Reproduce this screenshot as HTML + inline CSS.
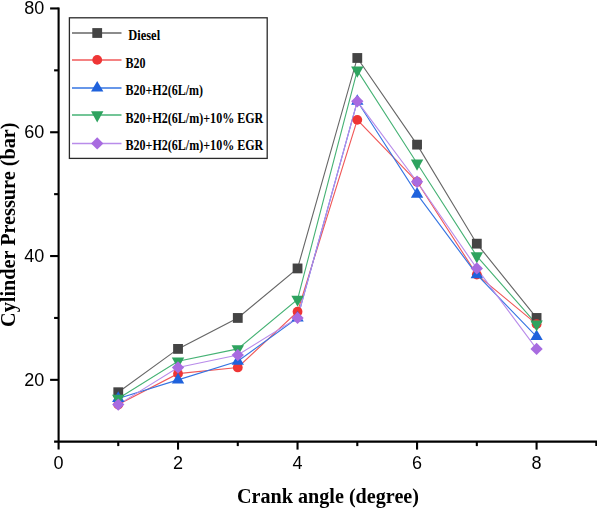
<!DOCTYPE html>
<html><head><meta charset="utf-8"><style>
html,body{margin:0;padding:0;background:#fff;width:597px;height:508px;overflow:hidden}
svg{display:block;filter:blur(0.35px)}

</style></head><body>
<svg width="597" height="508" viewBox="0 0 597 508">
<g stroke="#000" stroke-width="2.1" fill="none">
<line x1="58.6" y1="7.449999999999999" x2="58.6" y2="449.6"/>
<line x1="54.1" y1="441.6" x2="597" y2="441.6"/>
<line x1="50.1" y1="8.45" x2="58.6" y2="8.45"/>
<line x1="50.1" y1="132.25" x2="58.6" y2="132.25"/>
<line x1="50.1" y1="256.05" x2="58.6" y2="256.05"/>
<line x1="50.1" y1="379.85" x2="58.6" y2="379.85"/>
<line x1="54.1" y1="70.35" x2="58.6" y2="70.35"/>
<line x1="54.1" y1="194.15" x2="58.6" y2="194.15"/>
<line x1="54.1" y1="317.95" x2="58.6" y2="317.95"/>
<line x1="178.02" y1="441.6" x2="178.02" y2="449.6"/>
<line x1="297.54" y1="441.6" x2="297.54" y2="449.6"/>
<line x1="417.06" y1="441.6" x2="417.06" y2="449.6"/>
<line x1="536.58" y1="441.6" x2="536.58" y2="449.6"/>
<line x1="118.26" y1="441.6" x2="118.26" y2="446.1"/>
<line x1="237.78" y1="441.6" x2="237.78" y2="446.1"/>
<line x1="357.30" y1="441.6" x2="357.30" y2="446.1"/>
<line x1="476.82" y1="441.6" x2="476.82" y2="446.1"/>
<line x1="596.34" y1="441.6" x2="596.34" y2="446.1"/>
</g>
<g font-family="Liberation Sans, sans-serif" font-size="18" fill="#000">
<text x="44.3" y="14.15" text-anchor="end">80</text>
<text x="44.3" y="137.95" text-anchor="end">60</text>
<text x="44.3" y="261.75" text-anchor="end">40</text>
<text x="44.3" y="385.55" text-anchor="end">20</text>
<text x="58.50" y="468.9" text-anchor="middle">0</text>
<text x="178.02" y="468.9" text-anchor="middle">2</text>
<text x="297.54" y="468.9" text-anchor="middle">4</text>
<text x="417.06" y="468.9" text-anchor="middle">6</text>
<text x="536.58" y="468.9" text-anchor="middle">8</text>
</g>
<text x="328" y="502.6" text-anchor="middle" font-family="Liberation Serif, serif" font-weight="bold" font-size="20" textLength="182" lengthAdjust="spacingAndGlyphs">Crank angle (degree)</text>
<text transform="translate(15.2,224.7) rotate(-90)" x="0" y="0" text-anchor="middle" font-family="Liberation Serif, serif" font-weight="bold" font-size="20" textLength="204.5" lengthAdjust="spacingAndGlyphs">Cylinder Pressure (bar)</text>
<polyline points="118.26,392.23 178.02,348.90 237.78,317.95 297.54,268.43 357.30,57.97 417.06,144.63 476.82,243.67 536.58,317.95" fill="none" stroke="#666666" stroke-width="1.1"/>
<polyline points="118.26,404.61 178.02,373.66 237.78,367.47 297.54,311.76 357.30,119.87 417.06,181.77 476.82,274.62 536.58,324.14" fill="none" stroke="#f05858" stroke-width="1.1"/>
<polyline points="118.26,398.42 178.02,379.85 237.78,361.28 297.54,317.95 357.30,101.30 417.06,194.15 476.82,274.62 536.58,336.52" fill="none" stroke="#3574e2" stroke-width="1.1"/>
<polyline points="118.26,398.42 178.02,361.28 237.78,348.90 297.54,299.38 357.30,70.35 417.06,163.20 476.82,256.05 536.58,324.14" fill="none" stroke="#45b274" stroke-width="1.1"/>
<polyline points="118.26,404.61 178.02,367.47 237.78,355.09 297.54,317.95 357.30,101.30 417.06,181.77 476.82,268.43 536.58,348.90" fill="none" stroke="#b98cea" stroke-width="1.1"/>
<rect x="113.36" y="387.33" width="9.8" height="9.8" fill="#444444"/>
<rect x="173.12" y="344.00" width="9.8" height="9.8" fill="#444444"/>
<rect x="232.88" y="313.05" width="9.8" height="9.8" fill="#444444"/>
<rect x="292.64" y="263.53" width="9.8" height="9.8" fill="#444444"/>
<rect x="352.40" y="53.07" width="9.8" height="9.8" fill="#444444"/>
<rect x="412.16" y="139.73" width="9.8" height="9.8" fill="#444444"/>
<rect x="471.92" y="238.77" width="9.8" height="9.8" fill="#444444"/>
<rect x="531.68" y="313.05" width="9.8" height="9.8" fill="#444444"/>
<circle cx="118.26" cy="404.61" r="4.9" fill="#ef3535"/>
<circle cx="178.02" cy="373.66" r="4.9" fill="#ef3535"/>
<circle cx="237.78" cy="367.47" r="4.9" fill="#ef3535"/>
<circle cx="297.54" cy="311.76" r="4.9" fill="#ef3535"/>
<circle cx="357.30" cy="119.87" r="4.9" fill="#ef3535"/>
<circle cx="417.06" cy="181.77" r="4.9" fill="#ef3535"/>
<circle cx="476.82" cy="274.62" r="4.9" fill="#ef3535"/>
<circle cx="536.58" cy="324.14" r="4.9" fill="#ef3535"/>
<polygon points="118.26,391.35 124.46,401.95 112.06,401.95" fill="#1f62dc"/>
<polygon points="178.02,372.78 184.22,383.38 171.82,383.38" fill="#1f62dc"/>
<polygon points="237.78,354.21 243.98,364.81 231.58,364.81" fill="#1f62dc"/>
<polygon points="297.54,310.88 303.74,321.48 291.34,321.48" fill="#1f62dc"/>
<polygon points="357.30,94.23 363.50,104.83 351.10,104.83" fill="#1f62dc"/>
<polygon points="417.06,187.08 423.26,197.68 410.86,197.68" fill="#1f62dc"/>
<polygon points="476.82,267.55 483.02,278.15 470.62,278.15" fill="#1f62dc"/>
<polygon points="536.58,329.45 542.78,340.05 530.38,340.05" fill="#1f62dc"/>
<polygon points="112.06,394.69 124.46,394.69 118.26,405.89" fill="#2ea35f"/>
<polygon points="171.82,357.55 184.22,357.55 178.02,368.75" fill="#2ea35f"/>
<polygon points="231.58,345.17 243.98,345.17 237.78,356.37" fill="#2ea35f"/>
<polygon points="291.34,295.65 303.74,295.65 297.54,306.85" fill="#2ea35f"/>
<polygon points="351.10,66.62 363.50,66.62 357.30,77.82" fill="#2ea35f"/>
<polygon points="410.86,159.47 423.26,159.47 417.06,170.67" fill="#2ea35f"/>
<polygon points="470.62,252.32 483.02,252.32 476.82,263.52" fill="#2ea35f"/>
<polygon points="530.38,320.41 542.78,320.41 536.58,331.61" fill="#2ea35f"/>
<polygon points="118.26,398.46 124.41,404.61 118.26,410.76 112.11,404.61" fill="#a86be0"/>
<polygon points="178.02,361.32 184.17,367.47 178.02,373.62 171.87,367.47" fill="#a86be0"/>
<polygon points="237.78,348.94 243.93,355.09 237.78,361.24 231.63,355.09" fill="#a86be0"/>
<polygon points="297.54,311.80 303.69,317.95 297.54,324.10 291.39,317.95" fill="#a86be0"/>
<polygon points="357.30,95.15 363.45,101.30 357.30,107.45 351.15,101.30" fill="#a86be0"/>
<polygon points="417.06,175.62 423.21,181.77 417.06,187.92 410.91,181.77" fill="#a86be0"/>
<polygon points="476.82,262.28 482.97,268.43 476.82,274.58 470.67,268.43" fill="#a86be0"/>
<polygon points="536.58,342.75 542.73,348.90 536.58,355.05 530.43,348.90" fill="#a86be0"/>
<rect x="69.4" y="17.8" width="197.8" height="140.6" fill="#fff" stroke="#2a2a2a" stroke-width="1.3"/>
<line x1="72" y1="33.0" x2="121.5" y2="33.0" stroke="#666666" stroke-width="1.5"/>
<rect x="92.30" y="28.10" width="9.8" height="9.8" fill="#444444"/>
<text x="128.3" y="39.60" font-family="Liberation Serif, serif" font-weight="bold" font-size="13.8" textLength="31.8" lengthAdjust="spacingAndGlyphs">Diesel</text>
<line x1="72" y1="59.9" x2="121.5" y2="59.9" stroke="#f05858" stroke-width="1.5"/>
<circle cx="97.20" cy="59.90" r="4.9" fill="#ef3535"/>
<text x="125.5" y="67.80" font-family="Liberation Serif, serif" font-weight="bold" font-size="14.2" textLength="20.0" lengthAdjust="spacingAndGlyphs">B20</text>
<line x1="72" y1="88.0" x2="121.5" y2="88.0" stroke="#3574e2" stroke-width="1.5"/>
<polygon points="97.20,80.93 103.40,91.53 91.00,91.53" fill="#1f62dc"/>
<text x="125.5" y="94.50" font-family="Liberation Serif, serif" font-weight="bold" font-size="14.2" textLength="77.5" lengthAdjust="spacingAndGlyphs">B20+H2(6L/m)</text>
<line x1="72" y1="115.1" x2="121.5" y2="115.1" stroke="#45b274" stroke-width="1.5"/>
<polygon points="91.00,111.37 103.40,111.37 97.20,122.57" fill="#2ea35f"/>
<text x="125.5" y="123.00" font-family="Liberation Serif, serif" font-weight="bold" font-size="14.2" textLength="137.8" lengthAdjust="spacingAndGlyphs">B20+H2(6L/m)+10&#37; EGR</text>
<line x1="72" y1="143.4" x2="121.5" y2="143.4" stroke="#b98cea" stroke-width="1.5"/>
<polygon points="97.20,137.25 103.35,143.40 97.20,149.55 91.05,143.40" fill="#a86be0"/>
<text x="125.5" y="149.80" font-family="Liberation Serif, serif" font-weight="bold" font-size="14.2" textLength="137.8" lengthAdjust="spacingAndGlyphs">B20+H2(6L/m)+10&#37; EGR</text>
</svg>
</body></html>
